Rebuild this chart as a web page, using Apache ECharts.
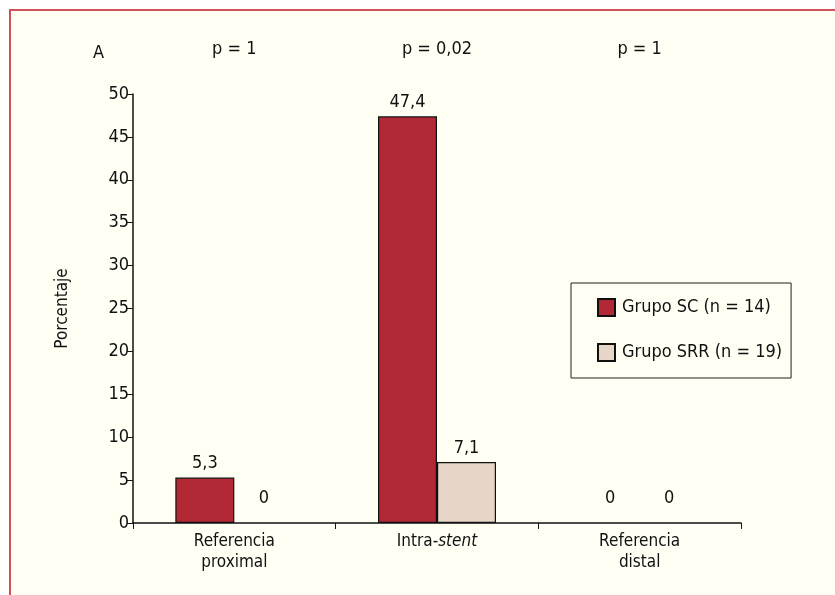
<!DOCTYPE html>
<html>
<head>
<meta charset="utf-8">
<script src="https://cdn.jsdelivr.net/npm/echarts@6/dist/echarts.min.js"></script>
<style>
html,body{margin:0;padding:0;background:#fff;width:835px;height:595px;overflow:hidden;}
#frame{position:absolute;left:9px;top:9px;width:826px;height:586px;border-left:2px solid #d4505a;border-top:2px solid #d4505a;background:#fffff4;}
#chart{position:absolute;left:0;top:0;width:826px;height:586px;}
</style>
</head>
<body>
<div id="frame"><div id="chart"></div></div>
<script>
const categories = ['Referencia\nproximal', 'Intra-stent', 'Referencia\ndistal'];
const pValues = ['p = 1', 'p = 0,02', 'p = 1'];
const seriesNames = ['Grupo SC (n = 14)', 'Grupo SRR (n = 19)'];
const grupoSC = [5.3, 47.4, 0];
const grupoSRR = [0, 7.1, 0];
const yTicks = [0, 50, 5];

const FONT = '"Liberation Sans Narrow","DejaVu Sans Condensed","Roboto Condensed",sans-serif';
const colors = ['#b22834', '#e8d7c8'];

function mk(vals) {
  return vals.map(v => ({
    value: v,
    itemStyle: v === 0 ? { borderWidth: 0, opacity: 0 } : {},
    label: { distance: v === 0 ? 16 : 5, opacity: 1 }
  }));
}

const chart = echarts.init(document.getElementById('chart'), null, {renderer: 'canvas'});
chart.setOption({
  backgroundColor: '#fffff4',
  animation: false,
  textStyle: { fontFamily: FONT },
  title: {
    text: 'A', left: 77, top: 28,
    textStyle: { fontFamily: FONT, fontSize: 18, fontWeight: 'normal', color: '#111' }
  },
  legend: {
    orient: 'vertical',
    left: 560, top: 272,
    data: seriesNames.map(n => ({ name: n, icon: 'rect' })),
    padding: [15, 9, 16, 26],
    itemWidth: 17, itemHeight: 17,
    itemGap: 26,
    backgroundColor: '#fffff4',
    borderColor: '#222', borderWidth: 1,
    textStyle: { fontFamily: FONT, fontSize: 18, color: '#111', padding: [0, 0, 0, 2] }
  },
  grid: { left: 122, right: 96, top: 83, bottom: 74 },
  xAxis: [{
    type: 'category',
    data: categories,
    axisLine: { lineStyle: { color: '#111', width: 1.5 } },
    axisTick: { show: true, length: 6, inside: false, lineStyle: { color: '#111' } },
    axisLabel: {
      fontFamily: FONT, fontSize: 17, color: '#111', margin: 8, lineHeight: 21,
      formatter: v => v.replace('stent', '{i|stent}'),
      rich: { i: { fontStyle: 'italic', fontFamily: FONT, fontSize: 17, color: '#111' } }
    }
  }, {
    type: 'category',
    position: 'top',
    data: pValues,
    offset: 36,
    axisLine: { show: false },
    axisTick: { show: false },
    axisLabel: { fontFamily: FONT, fontSize: 18, color: '#111', margin: 0 }
  }],
  yAxis: {
    type: 'value',
    min: yTicks[0], max: yTicks[1], interval: yTicks[2],
    name: 'Porcentaje',
    nameLocation: 'middle',
    nameGap: 62,
    nameRotate: 90,
    nameTextStyle: { fontFamily: FONT, fontSize: 17, color: '#111' },
    axisLine: { show: true, lineStyle: { color: '#111', width: 1.5 } },
    axisTick: { show: true, length: 6, lineStyle: { color: '#111' } },
    axisLabel: { fontFamily: FONT, fontSize: 18, color: '#111', margin: 4 },
    splitLine: { show: false }
  },
  series: [{
    name: seriesNames[0],
    type: 'bar',
    data: mk(grupoSC),
    barWidth: 59,
    barGap: '0%',
    itemStyle: { color: colors[0], borderColor: '#111', borderWidth: 1.2 },
    label: {
      show: true, position: 'top', fontFamily: FONT, fontSize: 18, color: '#111',
      formatter: p => String(p.value).replace('.', ',')
    }
  }, {
    name: seriesNames[1],
    type: 'bar',
    data: mk(grupoSRR),
    barWidth: 59,
    barGap: '0%',
    itemStyle: { color: colors[1], borderColor: '#111', borderWidth: 1.2 },
    label: {
      show: true, position: 'top', fontFamily: FONT, fontSize: 18, color: '#111',
      formatter: p => String(p.value).replace('.', ',')
    }
  }]
});
</script>
</body>
</html>
